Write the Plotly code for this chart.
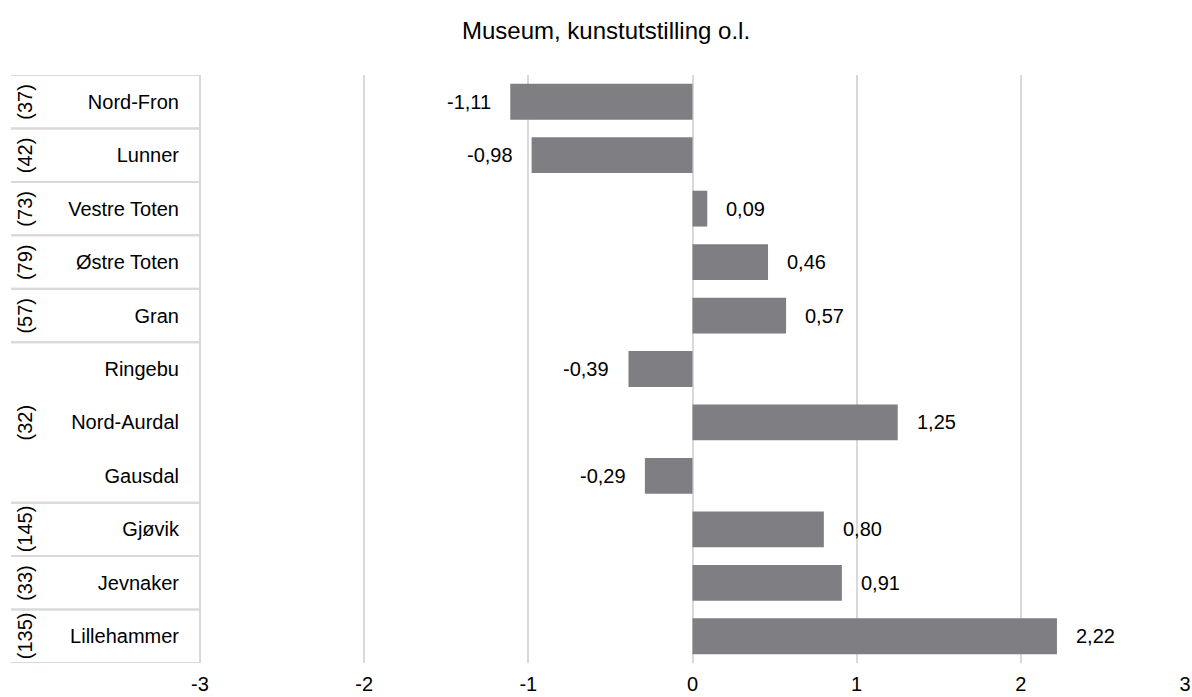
import plotly.graph_objects as go

categories = ["Nord-Fron", "Lunner", "Vestre Toten", "Østre Toten", "Gran",
              "Ringebu", "Nord-Aurdal", "Gausdal", "Gjøvik", "Jevnaker", "Lillehammer"]
values = [-1.11, -0.98, 0.09, 0.46, 0.57, -0.39, 1.25, -0.29, 0.80, 0.91, 2.22]
group_labels = ["(37)", "(42)", "(73)", "(79)", "(57)", "(32)", "(145)", "(33)", "(135)"]
group_rows = [[0], [1], [2], [3], [4], [5, 6, 7], [8], [9], [10]]
x_ticks = [-3, -2, -1, 0, 1, 2, 3]
title = "Museum, kunstutstilling o.l."

FONT = "Liberation Sans, Arial, sans-serif"
BAR = "#7f7e83"
GRID = "#d9d9d9"
FS = 20

fig = go.Figure()
fig.add_trace(go.Bar(
    x=values, y=categories, orientation="h",
    marker=dict(color=BAR, line=dict(width=0)),
    hoverinfo="skip",
))

annotations = []
for cat, v in zip(categories, values):
    annotations.append(dict(
        x=v, y=cat, xref="x", yref="y",
        text=f"{v:.2f}".replace(".", ","),
        showarrow=False,
        xanchor="left" if v >= 0 else "right",
        xshift=17 if v >= 0 else -17,
        font=dict(family=FONT, size=FS, color="#000000"),
    ))

shapes = []
plot_l, plot_r = 200, 1185
plot_w = plot_r - plot_l
xpaper_left = (11 - plot_l) / plot_w
xpaper_lab = (25 - plot_l) / plot_w

n = len(categories)
for gi, rows in enumerate(group_rows):
    top = rows[0] - 0.5
    bot = rows[-1] + 0.5
    for b in (top, bot):
        shapes.append(dict(type="line", xref="paper", yref="y",
                           x0=xpaper_left, x1=0, y0=b, y1=b,
                           line=dict(color=GRID, width=2), layer="below"))
    mid = (rows[0] + rows[-1]) / 2
    annotations.append(dict(
        x=xpaper_lab, y=mid, xref="paper", yref="y",
        text=group_labels[gi], showarrow=False, textangle=-90,
        xanchor="center", yanchor="middle",
        font=dict(family=FONT, size=FS, color="#000000"),
    ))
shapes.append(dict(type="line", xref="paper", yref="y",
                   x0=0, x1=0, y0=-0.5, y1=n - 0.5,
                   line=dict(color=GRID, width=2), layer="below"))

fig.update_layout(
    width=1192, height=697,
    margin=dict(l=plot_l, r=1192 - plot_r, t=75, b=34, autoexpand=False),
    paper_bgcolor="white", plot_bgcolor="white",
    separators=",.",
    showlegend=False,
    bargap=0.33,
    title=dict(text=title, x=606 / 1192, xref="container", y=1 - 31 / 697, yref="container",
               xanchor="center", yanchor="middle",
               font=dict(family=FONT, size=24, color="#000000")),
    xaxis=dict(range=[-3, 3], tickvals=x_ticks, ticktext=[str(t) for t in x_ticks],
               showgrid=True, gridcolor=GRID, gridwidth=2, zeroline=False,
               showline=False, ticks="outside", ticklen=3, tickcolor="rgba(0,0,0,0)",
               automargin=False,
               tickfont=dict(family=FONT, size=FS, color="#000000")),
    yaxis=dict(categoryorder="array", categoryarray=categories,
               range=[n - 0.5, -0.5],
               showgrid=False, zeroline=False, showline=False,
               ticks="outside", ticklen=16, tickcolor="rgba(0,0,0,0)",
               automargin=False,
               tickfont=dict(family=FONT, size=FS, color="#000000")),
    shapes=shapes,
    annotations=annotations,
)

fig.write_html("out.html", config={"displayModeBar": False},
               post_script="document.body.style.margin='0';")
